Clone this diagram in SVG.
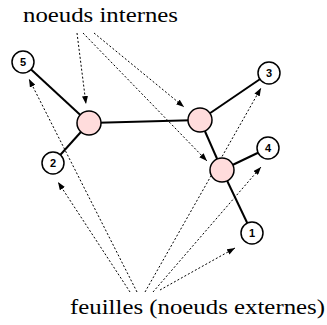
<svg xmlns="http://www.w3.org/2000/svg" width="327" height="325" viewBox="0 0 327 325">
<defs>
<marker id="ah" viewBox="0 0 8 6" refX="8" refY="3" markerWidth="8" markerHeight="6" markerUnits="userSpaceOnUse" orient="auto">
<path d="M0,0 L8,3 L0,6 z" fill="#000"/>
</marker>
<style>
.edge{stroke:#000;stroke-width:2;fill:none}
.ptr{stroke:#000;stroke-width:1;stroke-dasharray:2,2;fill:none;marker-end:url(#ah)}
.int{fill:#ffdcdc;stroke:#000;stroke-width:1.5}
.leaf{fill:#fff;stroke:#000;stroke-width:1.5}
.lbl{font-family:"Liberation Sans",Arial,sans-serif;font-weight:bold;font-size:11px;text-anchor:middle}
.cap{font-family:"Liberation Serif","Times New Roman",serif;font-size:22px}
</style>
</defs>
<rect width="327" height="325" fill="#fff"/>
<g id="connectors">
<line class="edge" x1="23" y1="62" x2="89" y2="123"/>
<line class="edge" x1="89" y1="123" x2="53" y2="163"/>
<line class="edge" x1="89" y1="123" x2="200" y2="120"/>
<line class="edge" x1="200" y1="120" x2="269" y2="73"/>
<line class="edge" x1="200" y1="120" x2="222" y2="170"/>
<line class="edge" x1="222" y1="170" x2="268" y2="148"/>
<line class="edge" x1="222" y1="170" x2="252" y2="233"/>
<path class="ptr" d="M77,33 L86,104"/>
<path class="ptr" d="M94,33 L184,107"/>
<path class="ptr" d="M83,33 L207,161"/>
<path class="ptr" d="M137,292 L29,79"/>
<path class="ptr" d="M130,292 L58,182"/>
<path class="ptr" d="M145,292 L261,88"/>
<path class="ptr" d="M153,292 L261,167"/>
<path class="ptr" d="M160,290 L235,248"/>
</g>
<g id="n_a"><circle class="int" cx="89" cy="123" r="12"/></g>
<g id="n_b"><circle class="int" cx="200" cy="120" r="12"/></g>
<g id="n_c"><circle class="int" cx="222" cy="170" r="12"/></g>
<g id="n5"><circle class="leaf" cx="23" cy="62" r="11"/><text class="lbl" x="23" y="66">5</text></g>
<g id="n2"><circle class="leaf" cx="53" cy="163" r="11"/><text class="lbl" x="53" y="167">2</text></g>
<g id="n3"><circle class="leaf" cx="269" cy="73" r="11"/><text class="lbl" x="269" y="77">3</text></g>
<g id="n4"><circle class="leaf" cx="268" cy="148" r="11"/><text class="lbl" x="268" y="152">4</text></g>
<g id="n1"><circle class="leaf" cx="252" cy="233" r="11"/><text class="lbl" x="252" y="237">1</text></g>
<g id="t_int"><text class="cap" x="23" y="22" textLength="155" lengthAdjust="spacingAndGlyphs">noeuds internes</text></g>
<g id="t_ext"><text class="cap" x="70" y="314" textLength="255" lengthAdjust="spacingAndGlyphs">feuilles (noeuds externes)</text></g>
</svg>
